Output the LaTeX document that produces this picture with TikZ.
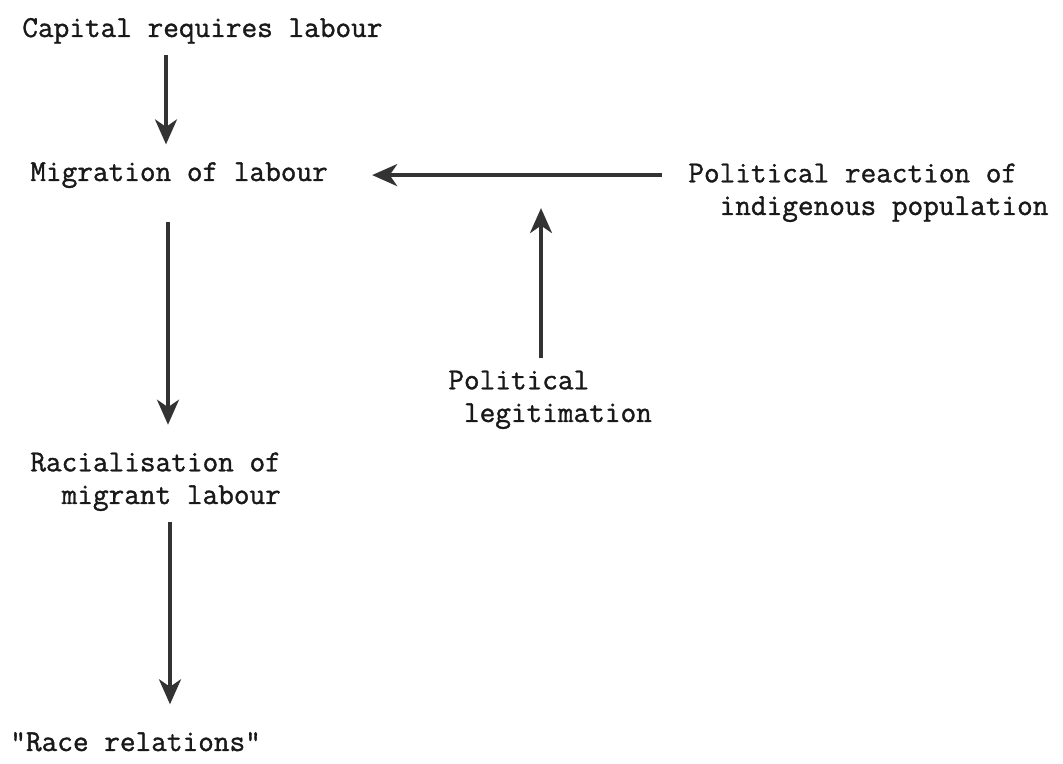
\documentclass[tikz,border=0pt]{standalone}
\usepackage{fontspec}
\newfontfamily\typewr[FakeBold=1.2]{Latin Modern Mono}
\usetikzlibrary{arrows.meta}
\usetikzlibrary{positioning}

\tikzset{
  typed/.style={font=\fontsize{17.3}{18.6}\selectfont\typewr, inner sep=0pt,
    anchor=base west, align=left, text=black!90},
  flow/.style={line width=2pt, draw=black!80}
}

\begin{document}
\begin{tikzpicture}[>={Stealth[length=5mm, width=4.4mm, inset=1.5mm]}]
       \useasboundingbox (0,0) rectangle (21.26,-15.28);

       \node[typed] (Capital) at (0.44,-0.74) {Capital requires labour};
       \node[typed] (Migration) at (0.60,-3.62) {Migration of labour};
       \node[typed] (Reaction) at (13.76,-4.30) {Political reaction of\\\phantom{xx}indigenous population};
       \node[typed] (Legitim) at (8.96,-8.44) {Political\\\phantom{x}legitimation};
       \node[typed] (Racial) at (0.60,-10.08) {Racialisation of\\\phantom{xx}migrant labour};
       \node[typed] (Race_rel) at (0.20,-15.02) {"Race relations"};

       % columns of the arrows
       \coordinate (col_a) at (3.32,0);
       \coordinate (col_b) at (3.36,0);
       \coordinate (col_c) at (3.40,0);
       \coordinate (col_d) at (10.82,0);
       \coordinate (join) at (col_d |- Migration.east);

       \draw[->, flow, shorten <=2.2mm, shorten >=3.5mm] (Capital.south -| col_a) -- (Migration.north -| col_a);
       \draw[->, flow, shorten <=5.2mm, shorten >=8.8mm] (Reaction.west |- Migration.east) -- (Migration.east);
       \draw[->, flow, shorten <=2.5mm, shorten >=6.6mm] (Legitim.north -| col_d) -- (join);
       \draw[->, flow, shorten <=6.8mm, shorten >=5.5mm] (Migration.south -| col_b) -- (Racial.north -| col_b);
       \draw[->, flow, shorten <=2.2mm, shorten >=5.5mm] (Racial.south -| col_c) -- (Race_rel.north -| col_c);

     \end{tikzpicture}
\end{document}
